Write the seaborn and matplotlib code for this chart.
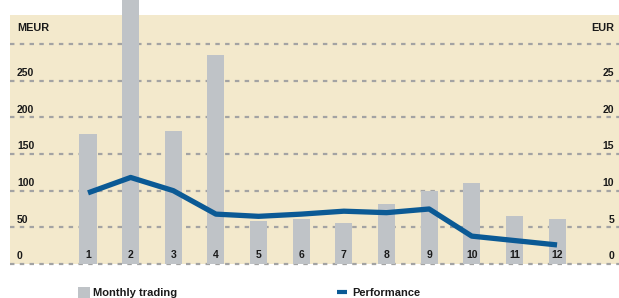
import matplotlib
matplotlib.use("Agg")
import matplotlib.pyplot as plt
import matplotlib.transforms as mtransforms
import seaborn as sns
import numpy as np
import pandas as pd
from matplotlib.patches import Rectangle
from matplotlib.lines import Line2D

months = ["1", "2", "3", "4", "5", "6", "7", "8", "9", "10", "11", "12"]
trading_meur = [177, 365, 182, 285, 59, 61, 56, 82, 100, 110, 65, 61]
performance_eur = [9.7, 11.8, 10.0, 6.8, 6.5, 6.8, 7.2, 7.0, 7.5, 3.8, 3.2, 2.6]
left_ticks = [0, 50, 100, 150, 200, 250, 300]
left_labels = ["0", "50", "100", "150", "200", "250", ""]
right_ticks = [0, 5, 10, 15, 20, 25, 30]
right_labels = ["0", "5", "10", "15", "20", "25", ""]

BEIGE = "#F3E9CC"
BAR = "#BFC3C7"
BLUE = "#0B5A95"
GRID = "#A3A3A3"
TXT = "#1A1A1A"
FONT = "Liberation Sans"

sns.set_theme(style="white")
plt.rcParams["font.family"] = [FONT, "DejaVu Sans"]

W, H = 619, 298
fig = plt.figure(figsize=(W / 100, H / 100), dpi=100)
ax = fig.add_axes([10 / W, 34 / H, 609 / W, 264 / H])
ax.set_facecolor("none")

df = pd.DataFrame({"month": months, "trading": trading_meur, "perf": performance_eur})

ymax = 264 / 36.67 * 50
ax.set_ylim(0, ymax)
ax.axhspan(0, 249 / 36.67 * 50, color=BEIGE, zorder=0, lw=0)
for v in left_ticks:
    ax.axhline(v, color=GRID, lw=1.6, ls=(0, (2.0, 2.4)), zorder=1, clip_on=False)

sns.barplot(data=df, x="month", y="trading", order=months, color=BAR,
            saturation=1, width=0.4, ax=ax, zorder=2)
for p in ax.patches:
    p.set_edgecolor("none")

xmin = -(88 - 10) / 42.64
ax.set_xlim(xmin, xmin + 609 / 42.64)

for i, m in enumerate(months):
    ax.text(i, 12.0, m, ha="center", va="center", fontsize=7.5, fontweight="bold",
            color=TXT, zorder=5)

ax.set_yticks([])
ax.set_xticks([])
ax.set_xlabel("")
ax.set_ylabel("")
for s in ax.spines.values():
    s.set_visible(False)

# left value labels, just above each grid line
tl = mtransforms.blended_transform_factory(ax.transAxes, ax.transData)
off = mtransforms.ScaledTranslation(7 / 100, 3.3 / 72, fig.dpi_scale_trans)
for v, lab in zip(left_ticks, left_labels):
    ax.text(0, v, lab, transform=tl + off, ha="left", va="baseline", fontsize=7.5,
            fontweight="bold", color=TXT)

ax2 = ax.twinx()
ax2.set_ylim(0, ymax / 10)
sns.lineplot(x=np.arange(len(months)), y=df["perf"], ax=ax2, color=BLUE, lw=3.8,
             solid_capstyle="butt", solid_joinstyle="round", zorder=4)
ax2.set_xlim(ax.get_xlim())
ax2.set_yticks([])
ax2.set_ylabel("")
for s in ax2.spines.values():
    s.set_visible(False)

tr = mtransforms.blended_transform_factory(ax2.transAxes, ax2.transData)
off2 = mtransforms.ScaledTranslation(-5 / 100, 3.3 / 72, fig.dpi_scale_trans)
for v, lab in zip(right_ticks, right_labels):
    ax2.text(1, v, lab, transform=tr + off2, ha="right", va="baseline", fontsize=7.5,
             fontweight="bold", color=TXT)

fig.text(17 / W, 1 - 30.7 / H, "MEUR", ha="left", va="baseline", fontsize=7.8,
         fontweight="bold", color=TXT)
fig.text(614 / W, 1 - 30.7 / H, "EUR", ha="right", va="baseline", fontsize=7.8,
         fontweight="bold", color=TXT)

# legend
fig.patches.append(Rectangle((78 / W, 0), 12 / W, 11 / H, transform=fig.transFigure,
                             color=BAR, lw=0))
fig.text(93 / W, 1 - 296 / H, "Monthly trading", ha="left", va="baseline",
         fontsize=8, fontweight="bold", color=TXT)
fig.lines.append(Line2D([337 / W, 347 / W], [1 - 292 / H, 1 - 292 / H],
                        transform=fig.transFigure, color=BLUE, lw=3,
                        solid_capstyle="butt"))
fig.text(352 / W, 1 - 296 / H, "Performance", ha="left", va="baseline",
         fontsize=8, fontweight="bold", color=TXT)

fig.savefig("out.png", dpi=100)
